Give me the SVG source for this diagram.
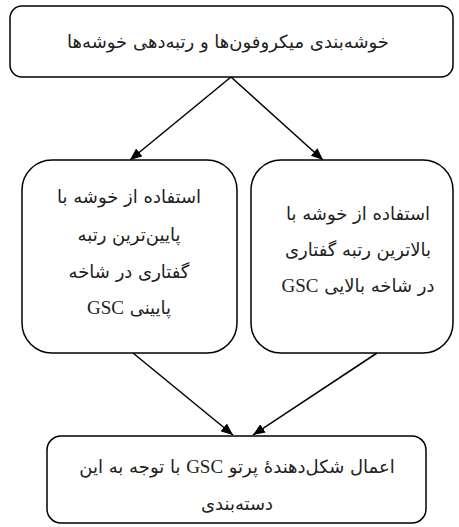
<svg xmlns="http://www.w3.org/2000/svg" width="459" height="527" viewBox="0 0 459 527">
<style>
.box{fill:#fff;stroke:#000;stroke-width:1.5}
.t{font-family:"DejaVu Sans",sans-serif;font-size:18px;fill:#222;text-anchor:middle;direction:rtl}
.l{font-family:"Liberation Serif",serif;font-size:19px}
.c{stroke:#000;stroke-width:1.5;fill:none;marker-end:url(#ah)}
</style>
<defs>
<marker id="ah" viewBox="0 0 12 10" refX="12" refY="5" markerWidth="12" markerHeight="10" markerUnits="userSpaceOnUse" orient="auto">
<path d="M0,0 L12,5 L0,10 Z" fill="#000"/>
</marker>
</defs>
<rect width="459" height="527" fill="#fff"/>
<g id="connectors">
<line class="c" x1="231" y1="77" x2="130" y2="160"/>
<line class="c" x1="231" y1="77" x2="323" y2="160"/>
<line class="c" x1="133" y1="353" x2="233" y2="435"/>
<line class="c" x1="377" y1="353" x2="253" y2="435"/>
</g>
<g id="top">
<rect class="box" x="10" y="6" width="443" height="71" rx="12"/>
<text class="t" x="228" y="48">خوشه‌بندی میکروفون‌ها و رتبه‌دهی خوشه‌ها</text>
</g>
<g id="left">
<rect class="box" x="22" y="160" width="215" height="193" rx="30"/>
<text class="t" x="129" y="203">استفاده از خوشه با</text>
<text class="t" x="129" y="241">پایین‌ترین رتبه</text>
<text class="t" x="129" y="278">گفتاری در شاخه</text>
<text class="t" x="129" y="314">پایینی <tspan class="l">GSC</tspan></text>
</g>
<g id="right">
<rect class="box" x="251" y="160" width="202" height="193" rx="30"/>
<text class="t" x="358" y="220">استفاده از خوشه با</text>
<text class="t" x="358" y="256">بالاترین رتبه گفتاری</text>
<text class="t" x="358" y="292">در شاخه بالایی <tspan class="l">GSC</tspan></text>
</g>
<g id="bottom">
<rect class="box" x="47" y="436" width="379" height="87" rx="14"/>
<text class="t" x="237" y="473">اعمال شکل‌دهندهٔ پرتو <tspan class="l">GSC</tspan> با توجه به این</text>
<text class="t" x="237" y="510">دسته‌بندی</text>
</g>
</svg>
